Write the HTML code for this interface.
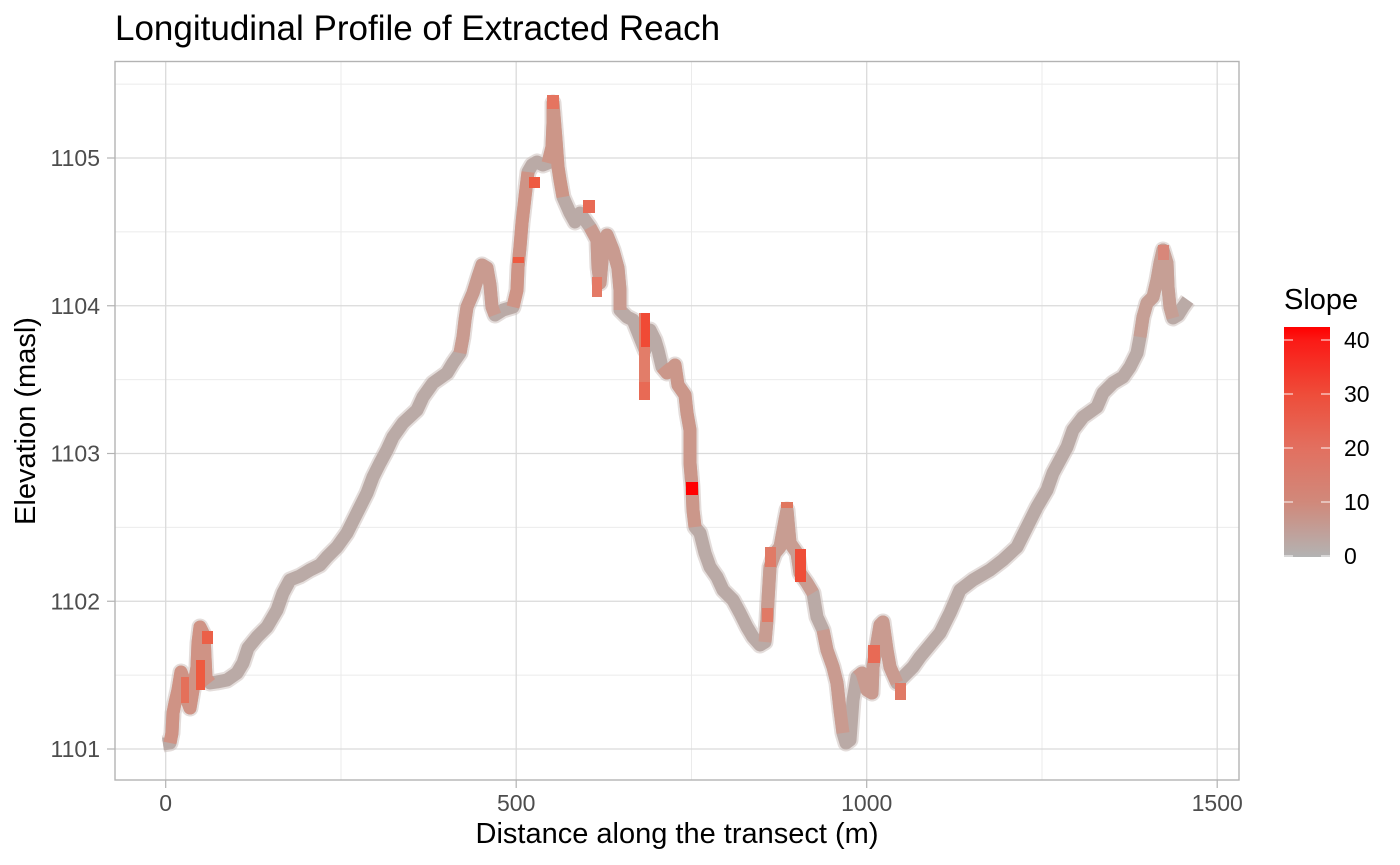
<!DOCTYPE html>
<html>
<head>
<meta charset="utf-8">
<style>
html,body{margin:0;padding:0;background:#fff;}
body{width:1400px;height:865px;overflow:hidden;position:relative;font-family:"Liberation Sans",Arial,sans-serif;}
svg{position:absolute;left:0;top:0;}
.cb{position:absolute;left:1284px;top:327px;width:46px;height:230px;
background:linear-gradient(to top,#B3B3B3 0%,#D0897B 23.5%,#E27060 47%,#EE4D3A 70.5%,#FB1A16 94%,#FF0000 100%);}
</style>
</head>
<body>
<div class="cb"></div>
<svg width="1400" height="865" viewBox="0 0 1400 865" xmlns="http://www.w3.org/2000/svg">
  <defs>
    <polyline id="prof" points="163,744 170,743 172,733 173,713 175,703 178,690 181,672 184,680 187,700 190,708 193,690 197,667 198,643 200,627 204,635 205,657 206,678 210,683 217,682 227,680 237,673 243,663 248,648 257,637 267,627 277,610 283,593 290,580 300,576 310,570 320,565 327,557 337,547 347,533 357,513 367,493 373,477 380,463 387,450 393,437 403,423 417,410 423,397 433,383 447,373 453,363 460,353 463,337 465,320 467,307 473,293 478,277 482,265 487,268 490,285 492,307 495,315 503,310 513,307 517,290 518,267 520,247 522,223 525,197 528,172 532,165 537,162 543,165 548,163 552,147 553,123 553,103 556,140 558,167 560,180 563,197 570,213 575,222 580,213 585,220 590,227 597,240 598,267 600,283 603,250 607,235 613,250 618,268 620,290 620,310 627,317 633,320 637,330 645,350 650,330 655,340 658,350 662,367 667,373 675,365 678,385 685,395 687,413 690,430 690,463 692,487 693,510 695,527 700,533 705,553 710,567 717,577 723,590 733,600 740,613 747,627 753,637 760,645 765,642 767,620 768,600 770,567 775,553 780,547 785,520 787,510 790,543 797,553 800,573 807,583 813,593 817,617 823,630 827,650 833,667 837,683 840,710 843,733 846,743 850,740 853,700 857,677 862,673 867,690 872,693 873,667 877,643 880,625 883,622 887,650 890,667 897,683 903,677 913,667 920,657 930,645 940,633 950,613 960,590 973,580 990,570 1003,560 1017,547 1027,527 1037,507 1047,490 1053,473 1060,460 1067,447 1073,430 1083,417 1097,407 1103,393 1113,383 1123,377 1130,367 1137,353 1140,337 1143,317 1147,303 1153,297 1157,280 1160,263 1163,250 1167,263 1168,287 1170,307 1173,318 1178,315 1183,307 1188,300"/>
  </defs>
  <!-- title -->
  <text x="115" y="40" font-family="Liberation Sans, Arial, sans-serif" font-size="35" fill="#000">Longitudinal Profile of Extracted Reach</text>

  <!-- minor grid -->
  <g stroke="#EBEBEB" stroke-width="1" fill="none">
    <line x1="115" x2="1239" y1="84.1" y2="84.1"/>
    <line x1="115" x2="1239" y1="231.9" y2="231.9"/>
    <line x1="115" x2="1239" y1="379.6" y2="379.6"/>
    <line x1="115" x2="1239" y1="527.4" y2="527.4"/>
    <line x1="115" x2="1239" y1="675.1" y2="675.1"/>
    <line y1="61.5" y2="780" x1="341" x2="341"/>
    <line y1="61.5" y2="780" x1="691.5" x2="691.5"/>
    <line y1="61.5" y2="780" x1="1042" x2="1042"/>
  </g>
  <!-- major grid -->
  <g stroke="#DADADA" stroke-width="1.3" fill="none">
    <line x1="115" x2="1239" y1="158" y2="158"/>
    <line x1="115" x2="1239" y1="305.75" y2="305.75"/>
    <line x1="115" x2="1239" y1="453.5" y2="453.5"/>
    <line x1="115" x2="1239" y1="601.25" y2="601.25"/>
    <line x1="115" x2="1239" y1="749" y2="749"/>
    <line y1="61.5" y2="780" x1="165.7" x2="165.7"/>
    <line y1="61.5" y2="780" x1="516.2" x2="516.2"/>
    <line y1="61.5" y2="780" x1="866.7" x2="866.7"/>
    <line y1="61.5" y2="780" x1="1217.2" x2="1217.2"/>
  </g>

  <!-- profile -->
  <g fill="none" stroke-linejoin="round" stroke-linecap="butt">
    <use href="#prof" stroke="#C4B4B0" stroke-width="17" opacity="0.45"/>
    <use href="#prof" stroke="#BAAAA6" stroke-width="13"/>
  </g>
  <g fill="none" stroke-linejoin="round" stroke-linecap="butt" stroke-width="13">
    <polyline stroke="#CF9385" points="170,743 172,733 173,713 175,703 178,690 181,672 184,680 187,700 190,708 193,690 197,667 198,643 200,627 204,635 205,657 206,678 210,683"/>
    <polyline stroke="#C99B90" points="460,353 463,337 465,320 467,307 473,293 478,277 482,265 487,268 490,285 492,307 495,315"/>
    <polyline stroke="#CE9486" points="513,307 517,290 518,267 520,247 522,223 525,197 528,172"/>
    <polyline stroke="#CC9688" points="548,163 552,147 553,123 553,103 556,140 558,167 560,180 563,197"/>
    <polyline stroke="#C99B90" points="590,227 597,240 598,267 600,283 603,250 607,235 613,250 618,268 620,290 620,310"/>
    <polyline stroke="#CB978A" points="662,367 667,373 675,365 678,385 685,395 687,413 690,430 690,463 692,487 693,510 695,527"/>
    <polyline stroke="#C89D92" points="765,642 767,620 768,600 770,567 775,553 780,547 785,520 787,510 790,543 797,553 800,573 807,583 813,593"/>
    <polyline stroke="#C99B90" points="823,630 827,650 833,667 837,683 840,710 843,733"/>
    <polyline stroke="#C99B90" points="857,677 862,673 867,690 872,693 873,667 877,643 880,625 883,622 887,650 890,667 897,683"/>
    <polyline stroke="#C69F95" points="1140,337 1143,317 1147,303 1153,297 1157,280 1160,263 1163,250 1167,263 1168,287 1170,307 1173,318"/>
  </g>
  <!-- red highlights -->
  <g>
    <rect x="196" y="660" width="9" height="30" fill="#EE5A40"/>
    <rect x="202" y="631" width="11" height="13" fill="#EB6048"/>
    <rect x="181" y="677" width="8" height="26" fill="#E4705A"/>
    <rect x="639" y="313" width="11" height="87" fill="#E27D69"/>
    <rect x="641" y="313" width="9" height="34" fill="#F04A35"/>
    <rect x="639" y="382" width="11" height="18" fill="#E86A55"/>
    <rect x="686" y="482" width="12" height="13" fill="#FF0000"/>
    <rect x="795" y="549" width="11" height="33" fill="#EF4E38"/>
    <rect x="547" y="95" width="12" height="14" fill="#E57460"/>
    <rect x="529" y="177" width="11" height="11" fill="#EE5A40"/>
    <rect x="513" y="257" width="11" height="6" fill="#EE5A40"/>
    <rect x="583" y="200" width="12" height="13" fill="#E86A55"/>
    <rect x="592" y="277" width="10" height="20" fill="#E47A66"/>
    <rect x="868" y="645" width="12" height="18" fill="#E86A55"/>
    <rect x="895" y="683" width="11" height="17" fill="#E07A66"/>
    <rect x="1158" y="245" width="11" height="15" fill="#D8877A"/>
    <rect x="765" y="547" width="11" height="20" fill="#E07A66"/>
    <rect x="762" y="608" width="11" height="14" fill="#E07A66"/>
    <rect x="781" y="502" width="12" height="6" fill="#E0775F"/>
  </g>

  <!-- panel border -->
  <rect x="115" y="61.5" width="1124" height="718.5" fill="none" stroke="#B3B3B3" stroke-width="1.4"/>

  <!-- ticks -->
  <g stroke="#B3B3B3" stroke-width="1.2">
    <line x1="107" x2="115" y1="158" y2="158"/>
    <line x1="107" x2="115" y1="305.75" y2="305.75"/>
    <line x1="107" x2="115" y1="453.5" y2="453.5"/>
    <line x1="107" x2="115" y1="601.25" y2="601.25"/>
    <line x1="107" x2="115" y1="749" y2="749"/>
    <line y1="780" y2="788" x1="165.7" x2="165.7"/>
    <line y1="780" y2="788" x1="516.2" x2="516.2"/>
    <line y1="780" y2="788" x1="866.7" x2="866.7"/>
    <line y1="780" y2="788" x1="1217.2" x2="1217.2"/>
  </g>

  <!-- tick labels -->
  <g font-family="Liberation Sans, Arial, sans-serif" font-size="23" fill="#4D4D4D">
    <g text-anchor="end">
      <text x="100" y="166.2">1105</text>
      <text x="100" y="314">1104</text>
      <text x="100" y="461.7">1103</text>
      <text x="100" y="609.5">1102</text>
      <text x="100" y="757.2">1101</text>
    </g>
    <g text-anchor="middle">
      <text x="165.7" y="811">0</text>
      <text x="516.2" y="811">500</text>
      <text x="866.7" y="811">1000</text>
      <text x="1217.2" y="811">1500</text>
    </g>
  </g>

  <!-- axis titles -->
  <text x="677" y="843" text-anchor="middle" font-family="Liberation Sans, Arial, sans-serif" font-size="29" fill="#000">Distance along the transect (m)</text>
  <text transform="translate(35,421) rotate(-90)" text-anchor="middle" font-family="Liberation Sans, Arial, sans-serif" font-size="29" fill="#000">Elevation (masl)</text>

  <!-- legend -->
  <text x="1284" y="309" font-family="Liberation Sans, Arial, sans-serif" font-size="29" fill="#000">Slope</text>
  <g stroke="#FFFFFF" stroke-width="1.2" opacity="0.8">
    <line x1="1284" x2="1293" y1="340" y2="340"/><line x1="1321" x2="1330" y1="340" y2="340"/>
    <line x1="1284" x2="1293" y1="394" y2="394"/><line x1="1321" x2="1330" y1="394" y2="394"/>
    <line x1="1284" x2="1293" y1="448" y2="448"/><line x1="1321" x2="1330" y1="448" y2="448"/>
    <line x1="1284" x2="1293" y1="502" y2="502"/><line x1="1321" x2="1330" y1="502" y2="502"/>
    <line x1="1284" x2="1293" y1="556" y2="556"/><line x1="1321" x2="1330" y1="556" y2="556"/>
  </g>
  <g font-family="Liberation Sans, Arial, sans-serif" font-size="23" fill="#000">
    <text x="1344" y="348.2">40</text>
    <text x="1344" y="402.2">30</text>
    <text x="1344" y="456.2">20</text>
    <text x="1344" y="510.2">10</text>
    <text x="1344" y="564.2">0</text>
  </g>
</svg>
</body>
</html>
